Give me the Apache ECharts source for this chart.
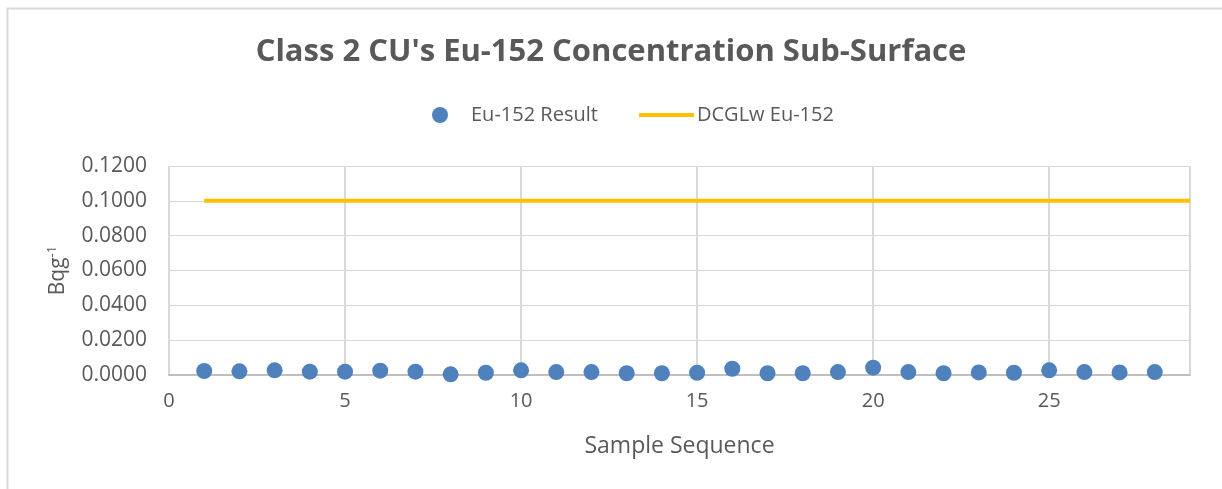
<!DOCTYPE html>
<html>
<head>
<meta charset="utf-8">
<script src="https://cdn.jsdelivr.net/npm/echarts@6/dist/echarts.min.js"></script>
<style>
  html, body { margin: 0; padding: 0; background: #fff; }
  #chart { width: 1222px; height: 489px; }
</style>
</head>
<body>
<div id="chart"></div>
<script>
// Sample sequence numbers and measured Eu-152 results (Bq/g)
const sampleSeq = [1,2,3,4,5,6,7,8,9,10,11,12,13,14,15,16,17,18,19,20,21,22,23,24,25,26,27,28];
const eu152Result = [0.0023,0.0021,0.0027,0.0019,0.0019,0.0025,0.0019,0.0004,0.0013,0.0027,
                     0.0017,0.0017,0.0010,0.0010,0.0013,0.0036,0.0010,0.0010,0.0017,0.0042,
                     0.0017,0.0010,0.0015,0.0013,0.0027,0.0017,0.0015,0.0017];
// Derived concentration guideline level for Eu-152
const dcglSeq = [1, 29];
const dcglValue = [0.1, 0.1];
const yTicks = ['0.0000','0.0200','0.0400','0.0600','0.0800','0.1000','0.1200'];

const FONT = '"Open Sans", "Liberation Sans", sans-serif';
const TXT = '#595959';

const chart = echarts.init(document.getElementById('chart'), null, { renderer: 'canvas' });
chart.setOption({
  backgroundColor: '#fff',
  animation: false,
  graphic: [{
    type: 'rect', left: 5, top: 6, z: -1,
    shape: { width: 1400, height: 700 },
    style: { fill: 'none', stroke: '#D9D9D9', lineWidth: 2 }
  }],
  title: {
    text: "Class 2 CU's Eu-152 Concentration Sub-Surface",
    left: 'center', top: 32,
    textStyle: { fontFamily: FONT, fontSize: 31, fontWeight: 'bold', color: TXT }
  },
  legend: [
    {
      top: 100, left: 427,
      textStyle: { fontFamily: FONT, fontSize: 20, color: TXT, padding: [0, 0, 0, 18] },
      data: [{ name: 'Eu-152 Result', icon: 'circle' }],
      itemWidth: 16, itemHeight: 16
    },
    {
      top: 100, left: 634,
      textStyle: { fontFamily: FONT, fontSize: 20, color: TXT, padding: [0, 0, 0, -2] },
      data: [{ name: 'DCGLw Eu-152', icon: 'rect' }],
      itemWidth: 55, itemHeight: 4
    }
  ],
  grid: { left: 169, right: 32, top: 166, bottom: 114 },
  xAxis: {
    type: 'value', min: 0, max: 29, interval: 5,
    name: 'Sample Sequence', nameLocation: 'middle', nameGap: 60,
    nameTextStyle: { fontFamily: FONT, fontSize: 23, color: TXT },
    axisLine: { show: true, lineStyle: { color: '#BFBFBF', width: 2 } },
    axisTick: { show: false },
    axisLabel: {
      fontFamily: FONT, fontSize: 20, color: TXT, margin: 16,
      showMaxLabel: false,
      formatter: v => (v % 5 === 0 ? String(v) : '')
    },
    splitLine: { show: true, lineStyle: { color: '#D9D9D9', width: 2 } }
  },
  yAxis: {
    type: 'value', min: 0, max: 0.12, interval: 0.02,
    name: '{a|Bqg}{s|-1}', nameLocation: 'middle', nameGap: 98, nameRotate: 90,
    nameTextStyle: {
      rich: {
        a: { fontFamily: FONT, fontSize: 21, color: TXT },
        s: { fontFamily: FONT, fontSize: 13, color: TXT, padding: [0, 0, 12, 0] }
      }
    },
    axisLine: { show: false },
    axisTick: { show: false },
    axisLabel: {
      fontFamily: FONT, fontSize: 21, color: TXT, margin: 22,
      formatter: v => yTicks[Math.round(v / 0.02)]
    },
    splitLine: { show: true, lineStyle: { color: '#D9D9D9', width: 1 } }
  },
  series: [
    {
      name: 'Eu-152 Result', type: 'scatter', symbol: 'circle', symbolSize: 16,
      itemStyle: { color: '#4F81BD', opacity: 1 },
      data: sampleSeq.map((s, i) => [s, eu152Result[i]])
    },
    {
      name: 'DCGLw Eu-152', type: 'line', showSymbol: false, symbol: 'none',
      lineStyle: { color: '#FFC000', width: 4 }, itemStyle: { color: '#FFC000' },
      data: dcglSeq.map((s, i) => [s, dcglValue[i]])
    }
  ]
});
</script>
</body>
</html>
